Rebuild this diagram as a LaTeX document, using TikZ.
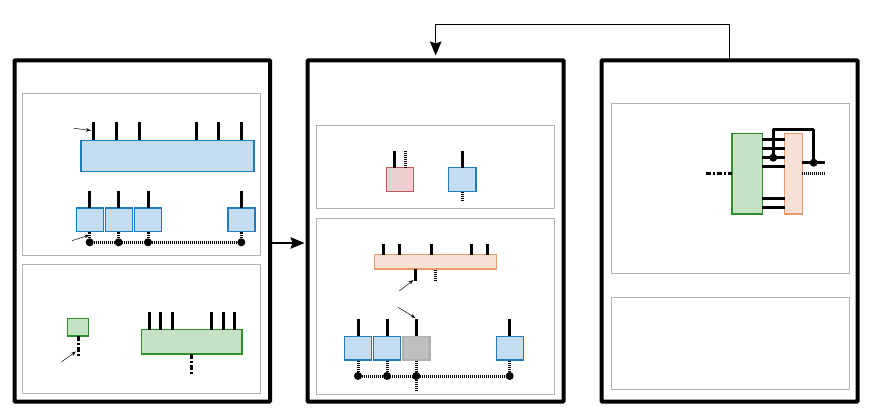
\documentclass[tikz,border=0pt]{standalone}
\usetikzlibrary{arrows.meta,calc}
\definecolor{bluefill}{HTML}{C5DDF0}
\definecolor{bluedraw}{HTML}{1F7BBE}
\definecolor{greenfill}{HTML}{C5E3C4}
\definecolor{greendraw}{HTML}{2E8F2E}
\definecolor{orangefill}{HTML}{F7E0D4}
\definecolor{orangedraw}{HTML}{EC9A6C}
\definecolor{redfill}{HTML}{ECCFD1}
\definecolor{reddraw}{HTML}{BF5A5F}
\definecolor{greyfill}{HTML}{BFBFBF}
\definecolor{greydraw}{HTML}{B0B0B0}
\definecolor{panelgrey}{HTML}{B3B3B3}
\tikzset{
  rectbase/.style={rectangle,inner sep=0pt,outer sep=0pt},
  outerpanel/.style={rectbase,draw=black,line width=4pt,rounded corners=0.6pt},
  subpanel/.style={rectbase,draw=panelgrey,line width=1pt},
  bluebox/.style={rectbase,draw=bluedraw,fill=bluefill,line width=1.5pt},
  greenbox/.style={rectbase,draw=greendraw,fill=greenfill,line width=1.5pt},
  orangebox/.style={rectbase,draw=orangedraw,fill=orangefill,line width=1.5pt},
  redbox/.style={rectbase,draw=reddraw,fill=redfill,line width=1.5pt},
  greybox/.style={rectbase,draw=greydraw,fill=greyfill,line width=1.5pt},
  solidwire/.style={draw=black,line width=3pt},
  dotwire/.style={draw=black,line width=3pt,dash pattern=on 1pt off 1pt},
  dashdotwire/.style={draw=black,line width=3pt,dash pattern=on 5pt off 2pt on 2pt off 2pt},
  junction/.style={circle,fill=black,inner sep=0pt,outer sep=0pt,minimum size=8pt},
  callout/.style={draw=black,line width=0.5pt,-{Stealth[length=5pt,width=3.5pt]}},
  flow/.style={draw=black,line width=1.3pt,-{Stealth[length=14pt,width=11.5pt,inset=2pt]}}
}
\newcommand{\bx}[6]{%
  \pgfmathsetmacro\bw{#5-#3}\pgfmathsetmacro\bh{#6-#4}%
  \node[#1,anchor=north west,minimum width=\bw pt,minimum height=\bh pt] (#2) at (#3,#4) {};}
\begin{document}
\begin{tikzpicture}[x=1pt,y=-1pt]
\useasboundingbox (0,0) rectangle (871,409);
\fill[white] (0,0) rectangle (871,409);

% outer panels
\bx{outerpanel}{A}{14.5}{60.3}{270}{401.5}
\bx{outerpanel}{B}{307.7}{60.3}{563.5}{401.5}
\bx{outerpanel}{C}{601.7}{60.3}{857.5}{401.5}

% sub panels
\bx{subpanel}{A1}{22.5}{93.5}{260.5}{255.5}
\bx{subpanel}{A2}{22.5}{264.5}{260.5}{393.5}
\bx{subpanel}{B1}{316.5}{125.5}{554.5}{208.5}
\bx{subpanel}{B2}{316.5}{218.5}{554.5}{394.5}
\bx{subpanel}{C1}{611.5}{103.5}{849.5}{273.5}
\bx{subpanel}{C2}{611.5}{297.5}{849.5}{389.5}

% flows between panels
\coordinate (fbup) at (729.5,24.7);
\draw[flow,rounded corners=0pt] (C.north -| fbup) -- (fbup) -| (435.7,55.5) coordinate (fbend);
\coordinate (flowy) at (0,243);
\draw[flow] (A.east |- flowy) -- (304.5,243) coordinate (flowend);

% --- panel A, top: big blue block
\bx{bluebox}{big}{81}{140.3}{254}{171.7}
\foreach \i/\x in {1/93.7,2/116.3,3/139,4/196,5/218.7,6/241.3}{
  \coordinate (bp\i) at (\x,122.3);
  \draw[solidwire] (bp\i) -- (bp\i |- big.north);
}
\coordinate (c1s) at (74,128.3);
\coordinate (c1e) at (91,130.5);
\draw[callout] (c1s) -- (c1e);

% small blue boxes
\bx{bluebox}{s1}{76.3}{208}{103.3}{231.7}
\bx{bluebox}{s2}{105.3}{208}{132.3}{231.7}
\bx{bluebox}{s3}{134.3}{208}{161.7}{231.7}
\bx{bluebox}{s4}{228}{208}{255}{231.7}
\foreach \i/\x in {1/89.7,2/118.7,3/148,4/241.3}{
  \coordinate (sp\i) at (\x,190.7);
  \draw[solidwire] (sp\i) -- (sp\i |- s\i.north);
  \node[junction] (sd\i) at (\x,242.3) {};
  \draw[dotwire] (sd\i.center) -- (sd\i.center |- s\i.south);
}
\draw[dotwire] (sd1.center) -- (sd4.center);
\coordinate (c2s) at (72,240.7);
\coordinate (c2e) at (89.5,235);
\draw[callout] (c2s) -- (c2e);

% --- panel A, bottom
\bx{greenbox}{g1}{67.7}{318.7}{88.3}{336}
\coordinate (g1e) at (78,356.7);
\draw[dashdotwire] (g1.south -| g1e) -- (g1e);
\coordinate (c3s) at (61.7,361.7);
\coordinate (c3e) at (76,351.5);
\draw[callout] (c3s) -- (c3e);
\bx{greenbox}{g2}{141.3}{329.7}{242}{354}
\foreach \i/\x in {1/149.3,2/160.7,3/172,4/211.7,5/223,6/234.3}{
  \coordinate (gp\i) at (\x,312.3);
  \draw[solidwire] (gp\i) -- (gp\i |- g2.north);
}
\coordinate (g2e) at (191.7,374.3);
\draw[dashdotwire] (g2.south -| g2e) -- (g2e);

% --- panel B, top
\bx{redbox}{r1}{386.3}{167.7}{413.7}{191.3}
\coordinate (rp1) at (394,150.7);
\coordinate (rp2) at (405.7,150.7);
\draw[solidwire] (rp1) -- (rp1 |- r1.north);
\draw[dotwire] (rp2) -- (rp2 |- r1.north);
\bx{bluebox}{b1}{448.7}{167.7}{476}{191.3}
\coordinate (b1t) at (462.3,150.7);
\coordinate (b1b) at (462.3,200.7);
\draw[solidwire] (b1t) -- (b1t |- b1.north);
\draw[dotwire] (b1b) -- (b1b |- b1.south);

% --- panel B, bottom
\bx{orangebox}{o1}{374.3}{254.7}{496.7}{269}
\foreach \i/\x in {1/383.3,2/399.3,3/431.7,4/471.7,5/487.7}{
  \coordinate (op\i) at (\x,244);
  \draw[solidwire] (op\i) -- (op\i |- o1.north);
}
\coordinate (oa) at (415.7,280.7);
\coordinate (ob) at (435.7,280.7);
\draw[solidwire] (oa) -- (oa |- o1.south);
\draw[dotwire] (ob) -- (ob |- o1.south);
\coordinate (c4s) at (399.3,291);
\coordinate (c4e) at (413.5,280);
\draw[callout] (c4s) -- (c4e);
\coordinate (c5s) at (398,307.3);
\coordinate (c5e) at (415.5,318);
\draw[callout] (c5s) -- (c5e);

\bx{bluebox}{t1}{344.7}{336.3}{371.7}{360}
\bx{bluebox}{t2}{373.7}{336.3}{400.7}{360}
\bx{greybox}{t3}{403}{336.3}{430}{360}
\bx{bluebox}{t4}{496.3}{336.3}{523.3}{360}
\foreach \i/\x in {1/358,2/387,3/416.3,4/509.7}{
  \coordinate (tp\i) at (\x,318.7);
  \draw[solidwire] (tp\i) -- (tp\i |- t\i.north);
  \node[junction] (td\i) at (\x,376) {};
  \draw[dotwire] (td\i.center) -- (td\i.center |- t\i.south);
}
\draw[dotwire] (td1.center) -- (td4.center);
\coordinate (tout) at (416.3,390.3);
\draw[dotwire] (td3.center) -- (tout);

% --- panel C
\bx{greenbox}{cg}{732}{133.5}{762.3}{214}
\bx{orangebox}{co}{784.7}{133.5}{802.3}{214}
\foreach \i/\y in {1/139.7,2/148.7,3/157.7,4/167,5/198.7,6/207.7}{
  \coordinate (w\i) at (773.3,\y);
  \draw[solidwire] (cg.east |- w\i) -- (co.west |- w\i);
}
\node[junction] (j1) at (773.3,157.7) {};
\node[junction] (j2) at (813.7,162.7) {};
\coordinate (cout) at (824.7,162.7);
\draw[solidwire] (co.east |- j2) -- (cout);
\draw[solidwire,line join=round] (j1.center) -- (773.3,130) -- (813.7,130) -- (j2.center);
\coordinate (cdot) at (824.7,173.3);
\draw[dotwire] (co.east |- cdot) -- (cdot);
\coordinate (cdash) at (706,173.3);
\draw[dashdotwire] (cdash) -- (cg.west |- cdash);
\end{tikzpicture}
\end{document}
